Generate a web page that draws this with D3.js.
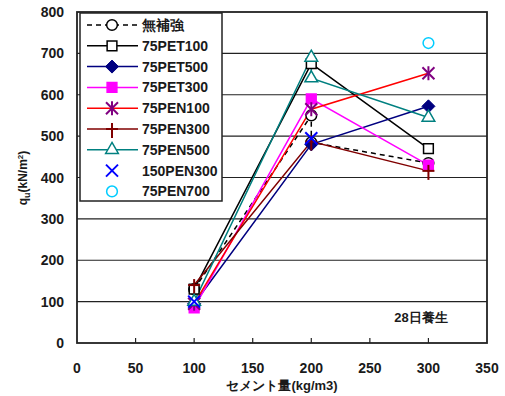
<!DOCTYPE html>
<html>
<head>
<meta charset="utf-8">
<script src="https://cdn.jsdelivr.net/npm/d3@7"></script>
<style>
  body { margin: 0; background: #fff; }
  text { font-family: "Liberation Sans", Arial, sans-serif; fill: #1a1a1a; font-weight: bold; }
</style>
</head>
<body>
<div id="chart"></div>
<script>
// x values (cement, kg/m3)
const cement3 = [100, 200, 300]
const cement4 = [100, 200, 200, 300]
const cement2 = [100, 200]
const cement1 = [300]

// qu values (kN/m2)
const qNone = [130, 550, 485, 435]
const qPet100 = [130, 675, 470]
const qPet500 = [95, 480, 572]
const qPet300 = [85, 590, 430]
const qPen100 = [95, 565, 652]
const qPen300 = [140, 487, 416]
const qPen500 = [100, 690, 640, 545]
const q150Pen300 = [100, 495]
const qPen700 = [725]

const legendNames = ["無補強", "75PET100", "75PET500", "75PET300", "75PEN100",
    "75PEN300", "75PEN500", "150PEN300", "75PEN700"]
const xTicks = [0, 50, 100, 150, 200, 250, 300, 350]
const yTicks = [0, 100, 200, 300, 400, 500, 600, 700, 800]

const w = 505, h = 396
const padL = 77, padR = 487, padT = 12, padB = 343

let svg = d3.select("#chart").append("svg")
    .attr("width", w).attr("height", h)

let x = d3.scaleLinear().domain([0, 350]).range([padL, padR])
let y = d3.scaleLinear().domain([0, 800]).range([padB, padT])

let series = [
    { name: legendNames[0], xs: cement4, ys: qNone, line: "#000", dash: "5,4", mk: "circle", mc: "#000", fill: "#fff" },
    { name: legendNames[1], xs: cement3, ys: qPet100, line: "#000", mk: "square", mc: "#000", fill: "#fff" },
    { name: legendNames[2], xs: cement3, ys: qPet500, line: "#000080", mk: "diamond", mc: "#000080", fill: "#000080" },
    { name: legendNames[3], xs: cement3, ys: qPet300, line: "#ff00ff", mk: "square", mc: "#ff00ff", fill: "#ff00ff" },
    { name: legendNames[4], xs: cement3, ys: qPen100, line: "#ff0000", mk: "star", mc: "#800080", fill: "none" },
    { name: legendNames[5], xs: cement3, ys: qPen300, line: "#800000", mk: "plus", mc: "#800000", fill: "none" },
    { name: legendNames[6], xs: cement4, ys: qPen500, line: "#008080", mk: "triangle", mc: "#008080", fill: "#fff" },
    { name: legendNames[7], xs: cement2, ys: q150Pen300, line: null, mk: "x", mc: "#0000ff", fill: "none" },
    { name: legendNames[8], xs: cement1, ys: qPen700, line: null, mk: "circle", mc: "#00ccff", fill: "#fff" }
]

// grid lines
svg.append("g").selectAll("line")
    .data(yTicks.slice(1, -1))
    .enter().append("line")
    .attr("x1", padL).attr("x2", padR)
    .attr("y1", d => y(d)).attr("y2", d => y(d))
    .attr("stroke", "#222").attr("stroke-width", 1.2)

// x axis ticks (pointing inside)
svg.append("g").selectAll("line")
    .data(xTicks.slice(1, -1))
    .enter().append("line")
    .attr("x1", d => x(d)).attr("x2", d => x(d))
    .attr("y1", padB).attr("y2", padB - 5)
    .attr("stroke", "#222").attr("stroke-width", 1.2)

svg.append("g").selectAll("text")
    .data(xTicks).enter().append("text")
    .attr("x", d => x(d)).attr("y", padB + 30)
    .attr("text-anchor", "middle")
    .style("font-size", "14px")
    .text(d => d)

svg.append("g").selectAll("text")
    .data(yTicks).enter().append("text")
    .attr("x", padL - 13).attr("y", d => y(d) + 5)
    .attr("text-anchor", "end")
    .style("font-size", "14px")
    .text(d => d)

let drawMarker = (g, type, cx, cy, stroke, fill) => {
    let sym = null
    if (type == "circle") sym = d3.symbol().type(d3.symbolCircle).size(90)
    if (type == "square") sym = d3.symbol().type(d3.symbolSquare).size(95)
    if (type == "triangle") sym = d3.symbol().type(d3.symbolTriangle).size(70)
    if (type == "diamond") {
        let r = 6.5
        g.append("path")
            .attr("d", "M0," + (-r) + "L" + r + ",0L0," + r + "L" + (-r) + ",0Z")
            .attr("transform", "translate(" + cx + "," + cy + ")")
            .attr("fill", fill).attr("stroke", stroke).attr("stroke-width", 1)
        return
    }
    if (sym) {
        g.append("path")
            .attr("d", sym())
            .attr("transform", "translate(" + cx + "," + cy + ")")
            .attr("fill", fill).attr("stroke", stroke).attr("stroke-width", 1.5)
        return
    }
    let r = 6
    let segs = []
    if (type == "plus") segs = [[-r, 0, r, 0], [0, -r, 0, r + 3]]
    if (type == "x") segs = [[-r, -r, r, r], [-r, r, r, -r]]
    if (type == "star") segs = [[-r, -r, r, r], [-r, r, r, -r], [0, -r - 1, 0, r + 1]]
    segs.forEach(s => {
        g.append("line")
            .attr("x1", cx + s[0]).attr("y1", cy + s[1])
            .attr("x2", cx + s[2]).attr("y2", cy + s[3])
            .attr("stroke", stroke).attr("stroke-width", 2)
    })
}

// lines
let line = d3.line().x(d => x(d[0])).y(d => y(d[1]))
series.forEach(s => {
    if (!s.line) return
    svg.append("path")
        .datum(s.xs.map((v, i) => [v, s.ys[i]]))
        .attr("d", line)
        .attr("fill", "none")
        .attr("stroke", s.line)
        .attr("stroke-width", 1.5)
        .attr("stroke-dasharray", s.dash || null)
})

// markers
let mg = svg.append("g")
series.forEach(s => {
    s.xs.forEach((v, i) => drawMarker(mg, s.mk, x(v), y(s.ys[i]), s.mc, s.fill))
})

// frame
svg.append("rect")
    .attr("x", padL).attr("y", padT)
    .attr("width", padR - padL).attr("height", padB - padT)
    .attr("fill", "none").attr("stroke", "#222").attr("stroke-width", 1.8)

// legend
let lg = svg.append("g")
lg.append("rect")
    .attr("x", 80).attr("y", padT + 1)
    .attr("width", 142).attr("height", 188)
    .attr("fill", "#fff").attr("stroke", "#222").attr("stroke-width", 1.5)

series.forEach((s, i) => {
    let ly = 25 + i * 20.8
    if (s.line) {
        lg.append("line")
            .attr("x1", 87).attr("x2", 138)
            .attr("y1", ly).attr("y2", ly)
            .attr("stroke", s.line).attr("stroke-width", 1.5)
            .attr("stroke-dasharray", s.dash || null)
    }
    drawMarker(lg, s.mk, 112, ly, s.mc, s.fill)
    lg.append("text")
        .attr("x", 142).attr("y", ly + 5)
        .style("font-size", "14px")
        .text(s.name)
})

// annotation
svg.append("text")
    .attr("x", 421).attr("y", 322)
    .attr("text-anchor", "middle")
    .style("font-size", "13px")
    .text("28日養生")

// axis titles
svg.append("text")
    .attr("x", 282).attr("y", 390)
    .attr("text-anchor", "middle")
    .style("font-size", "13px")
    .text("セメント量(kg/m3)")

let yl = svg.append("text")
    .attr("transform", "translate(27,178) rotate(-90)")
    .attr("text-anchor", "middle")
    .style("font-size", "12px")
yl.append("tspan").text("q")
yl.append("tspan").attr("dy", 3).style("font-size", "9px").text("u")
yl.append("tspan").attr("dy", -3).text("(kN/m")
yl.append("tspan").attr("dy", -4).style("font-size", "8px").text("2")
yl.append("tspan").attr("dy", 4).text(")")
</script>
</body>
</html>
